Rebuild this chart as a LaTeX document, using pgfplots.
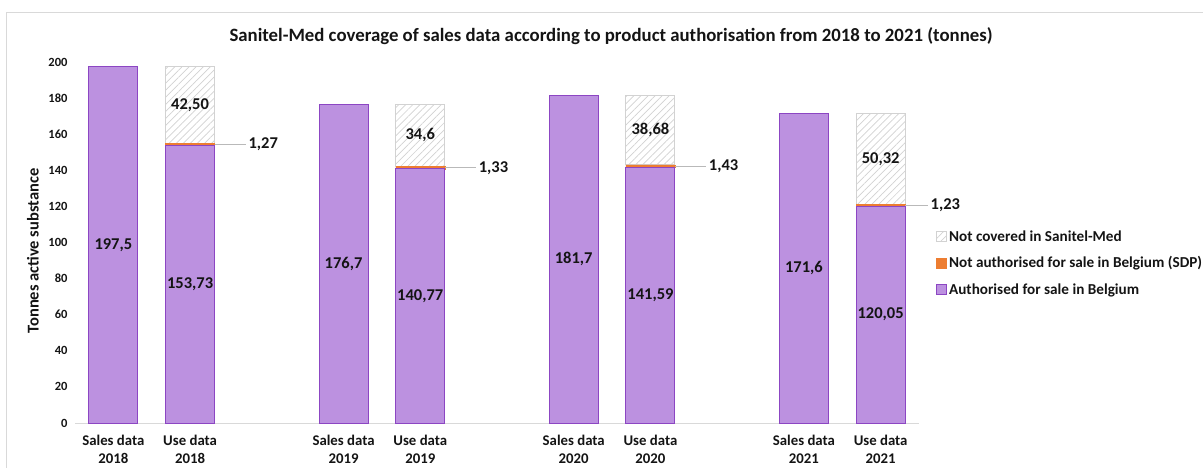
\documentclass[border=0pt]{standalone}
\usepackage{pgfplots}
\pgfplotsset{compat=1.18}
\usetikzlibrary{patterns.meta}
\usepackage{fontspec}
\setmainfont{Carlito}
\definecolor{purp}{RGB}{188,145,224}
\definecolor{purpedge}{RGB}{140,70,195}
\definecolor{orng}{RGB}{237,125,49}
\definecolor{hatchc}{RGB}{210,210,210}
\definecolor{axgray}{RGB}{217,217,217}
\definecolor{txt}{RGB}{20,20,20}
\pgfplotsset{
  base/.style={
    width=844bp, height=361bp, scale only axis,
    xmin=-0.5, xmax=10.5, ymin=0, ymax=200,
    at={(0,0)}, anchor=south west,
    bar width=49bp,
  }
}
\begin{document}
\begin{tikzpicture}[font=\bfseries\fontsize{16.5bp}{19bp}\selectfont, text=txt]
\path[use as bounding box] (-75bp,-45bp) rectangle (1128bp,423bp);
\draw[axgray, line width=1bp] (-68bp,-50bp) -- (-68bp,410bp) -- (1135bp,410bp);
% Axis A: sales data + axes
\begin{axis}[base, ybar,
  axis x line*=bottom, axis y line*=left,
  x axis line style={draw=axgray, line width=1bp, -},
  y axis line style={draw=none},
  major tick length=0pt,
  xtick={0,1,3,4,6,7,9,10},
  xticklabels={{Sales data\\2018},{Use data\\2018},{Sales data\\2019},{Use data\\2019},{Sales data\\2020},{Use data\\2020},{Sales data\\2021},{Use data\\2021}},
  xticklabel style={align=center, font=\bfseries\fontsize{14.8bp}{17.5bp}\selectfont, yshift=-9bp},
  ytick={0,20,...,200},
  yticklabel style={font=\bfseries\fontsize{12.5bp}{15bp}\selectfont, xshift=-4bp},
  /pgf/number format/assume math mode=true,
  ylabel={Tonnes active substance},
  ylabel style={font=\bfseries\fontsize{11.7bp}{14bp}\selectfont},
  every axis y label/.style={at={(-42bp,172bp)}, rotate=90, anchor=center},
]
\addplot[fill=purp, draw=purpedge, line width=1bp] coordinates {(0,197.5) (3,176.7) (6,181.7) (9,171.6)};
\end{axis}
% Axis B: use data stacked
\begin{axis}[base, ybar stacked, hide axis, clip=false,
  reverse legend,
  legend style={at={(1.0165,0.545)}, anchor=north west, draw=none, fill=none,
    font=\bfseries\fontsize{15.2bp}{18bp}\selectfont, row sep=10bp, legend cell align=left,
    /tikz/every even column/.style={column sep=1bp}},
  legend image code/.code={\draw[#1] (0bp,-5bp) rectangle (10bp,5bp);},
]
\addplot[fill=purp, draw=purpedge, line width=1bp] coordinates {(1,153.73) (4,140.77) (7,141.59) (10,120.05)};
\addlegendentry{Authorised for sale in Belgium}
\addplot[fill=orng, draw=orng, line width=0.5bp] coordinates {(1,1.27) (4,1.33) (7,1.43) (10,1.23)};
\addlegendentry{Not authorised for sale in Belgium (SDP)}
\addplot[fill=white, draw=hatchc, line width=1bp, postaction={pattern={Lines[angle=45,distance=5bp,line width=0.7bp]}, pattern color=hatchc}] coordinates {(1,42.50) (4,34.6) (7,38.68) (10,50.32)};
\addlegendentry{Not covered in Sanitel-Med}
\end{axis}
% Axis C: labels on top
\begin{axis}[base, hide axis, clip=false]
\node at (axis cs:0,98.75) {197,5};
\node at (axis cs:3,88.35) {176,7};
\node at (axis cs:6,90.85) {181,7};
\node at (axis cs:9,85.8) {171,6};
\node at (axis cs:1,76.9) {153,73};
\node at (axis cs:4,70.4) {140,77};
\node at (axis cs:7,70.8) {141,59};
\node at (axis cs:10,60.0) {120,05};
\node at (axis cs:1,176.25) {42,50};
\node at (axis cs:4,159.4) {34,6};
\node at (axis cs:7,162.4) {38,68};
\node at (axis cs:10,146.4) {50,32};
\draw[gray!55, line width=1bp] (axis cs:1.32,154.4) -- (axis cs:1.73,154.4) node[right, inner sep=2bp, text=txt] {1,27};
\draw[gray!55, line width=1bp] (axis cs:4.32,141.4) -- (axis cs:4.73,141.4) node[right, inner sep=2bp, text=txt] {1,33};
\draw[gray!55, line width=1bp] (axis cs:7.32,142.3) -- (axis cs:7.73,142.3) node[right, inner sep=2bp, text=txt] {1,43};
\draw[gray!55, line width=1bp] (axis cs:10.32,120.7) -- (axis cs:10.62,120.7) node[right, inner sep=2bp, text=txt] {1,23};
\end{axis}
\node[font=\bfseries\fontsize{18.8bp}{22bp}\selectfont] at (536bp,387bp) {Sanitel-Med coverage of sales data according to product authorisation from 2018 to 2021 (tonnes)};
\end{tikzpicture}
\end{document}
